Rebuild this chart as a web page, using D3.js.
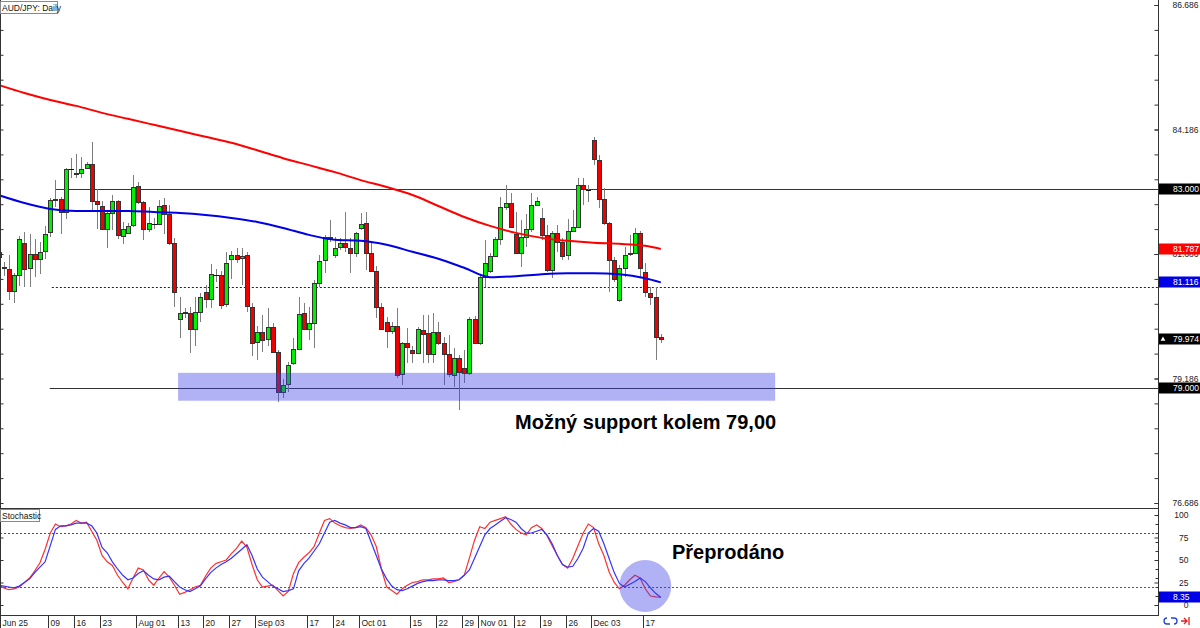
<!DOCTYPE html>
<html><head><meta charset="utf-8"><title>AUD/JPY Daily</title>
<script src="https://cdn.jsdelivr.net/npm/d3@7/dist/d3.min.js"></script>
<style>
html,body{margin:0;padding:0;background:#fff;}
svg{display:block;}
text{font-family:"Liberation Sans",Arial,sans-serif;}
</style></head><body>
<svg id="chart" width="1200" height="628"></svg>
<script>
// ---------- DATA ----------
const opens=[81.63,81.42,81.38,80.94,81.26,81.91,81.40,81.69,81.59,81.75,
82.13,82.77,82.79,82.53,83.39,83.29,83.31,83.41,83.49,82.75,
82.65,82.19,82.51,82.75,82.05,82.11,82.27,83.05,82.73,82.19,
82.29,82.29,82.67,82.49,81.91,80.38,80.52,80.50,80.18,80.52,
80.92,80.78,81.26,81.26,80.68,81.59,81.67,81.61,81.67,80.62,
79.92,80.12,79.98,80.22,79.72,78.92,79.08,79.50,79.78,80.50,
80.18,80.30,81.10,81.56,82.01,81.67,81.83,81.91,81.81,81.71,
82.21,82.31,81.71,81.34,80.62,80.32,80.14,80.24,79.28,79.90,
79.76,79.70,80.16,80.10,79.68,80.12,79.90,79.68,79.26,79.60,
79.40,79.30,80.38,79.90,81.22,81.34,81.65,81.99,82.63,82.71,
82.09,81.71,82.03,82.19,82.67,82.41,82.07,81.36,82.11,81.93,
81.67,82.15,82.23,83.07,82.97,83.97,83.57,82.79,82.31,81.56,
80.76,81.40,81.69,81.71,82.11,81.32,80.90,80.82,80.02];
const highs=[81.81,81.52,81.67,81.30,82.05,82.13,82.09,81.99,81.93,82.25,
82.81,83.17,82.83,83.41,83.61,83.69,83.63,83.53,83.93,82.99,
82.75,82.57,82.87,82.77,82.33,82.31,83.27,83.13,82.75,82.63,
82.41,82.77,82.81,82.67,82.01,80.82,80.60,80.62,80.82,80.90,
81.06,81.48,81.38,81.34,81.73,81.75,81.81,81.81,81.73,80.70,
80.24,80.46,80.60,80.30,79.76,79.18,79.52,80.00,80.82,80.70,
80.62,81.16,81.67,82.07,82.37,82.03,82.01,82.53,82.01,82.13,
82.51,82.53,81.91,81.44,80.70,80.42,80.32,80.60,79.92,80.20,
79.84,80.22,80.46,80.46,80.50,80.32,80.02,80.06,79.80,79.66,
79.76,80.42,80.44,81.26,81.97,81.71,82.03,82.83,83.07,82.91,
82.53,82.37,82.49,82.91,82.83,82.61,82.27,82.15,82.27,82.01,
82.39,82.57,83.21,83.21,83.07,84.04,83.67,83.01,82.33,81.63,
81.46,81.83,82.07,82.21,82.15,81.50,81.02,81.02,80.08];
const lows=[81.52,81.24,80.76,80.70,81.04,81.02,81.02,81.22,81.28,81.59,
82.03,82.63,82.09,82.39,83.21,83.21,83.21,83.41,82.57,82.19,
82.17,81.81,82.17,81.99,81.89,82.09,82.23,82.69,81.97,82.13,
82.19,82.29,82.09,81.87,80.62,80.00,80.40,79.70,79.84,80.32,
80.60,80.60,81.12,80.58,80.62,81.18,81.50,81.06,80.52,79.64,
79.56,79.72,79.84,79.70,78.71,78.79,78.92,79.46,79.76,80.16,
79.96,79.80,81.02,81.30,81.93,81.61,81.77,81.73,81.30,81.63,
82.17,81.36,81.32,80.40,80.16,79.80,80.08,79.20,79.06,79.50,
79.50,79.70,79.50,79.50,79.50,79.86,79.06,79.22,79.02,78.55,
79.10,79.26,79.88,79.86,81.02,81.30,81.63,81.87,82.57,82.21,
81.69,81.42,81.83,82.13,82.65,81.97,81.32,81.20,81.73,81.56,
81.56,82.13,82.21,82.67,82.73,83.47,82.61,82.27,80.92,81.12,
80.72,81.22,81.65,81.69,81.22,80.82,80.66,79.56,79.90];
const closes=[81.73,81.40,80.94,81.26,81.99,81.38,81.69,81.59,81.73,82.09,
82.77,82.79,82.53,83.39,83.39,83.31,83.39,83.49,82.75,82.69,
82.19,82.51,82.75,82.07,82.19,82.25,83.03,82.73,82.19,82.31,
82.29,82.65,82.49,81.91,80.92,80.50,80.50,80.18,80.52,80.82,
80.78,81.28,81.26,80.66,81.50,81.67,81.59,81.65,80.64,79.90,
80.12,79.96,80.22,79.72,78.92,79.06,79.46,79.78,80.48,80.18,
80.30,81.10,81.54,82.03,82.03,81.81,81.91,81.83,81.71,82.11,
82.29,81.71,81.34,80.62,80.18,80.14,80.24,79.26,79.90,79.82,
79.70,80.18,80.08,79.68,80.12,79.90,79.68,79.28,79.60,79.32,
79.30,80.38,79.90,81.22,81.50,81.65,81.99,82.63,82.71,82.23,
81.71,82.03,82.19,82.67,82.75,82.07,81.36,82.11,81.93,81.65,
82.15,82.23,83.07,82.99,82.97,83.59,82.79,82.31,81.56,81.18,
81.40,81.67,81.71,82.11,81.40,80.92,80.82,80.02,79.974];

// moving averages read at weekly bars
const maBars=[0,5,10,15,20,25,30,35,40,45,50,55,60,65,70,75,80,85,90,95,100,105,110,115,120,125,128];
const maRed=[85.08,84.92,84.78,84.66,84.52,84.40,84.28,84.16,84.04,83.92,83.77,83.61,83.47,83.33,83.17,83.03,82.87,82.65,82.43,82.25,82.11,82.01,81.95,81.91,81.89,81.85,81.787];
const maBlue=[82.87,82.71,82.59,82.55,82.55,82.55,82.53,82.51,82.47,82.41,82.33,82.21,82.07,81.97,81.95,81.87,81.73,81.59,81.41,81.22,81.24,81.28,81.30,81.30,81.28,81.20,81.116];

// stochastic
const stochK=[22,19,17,18,20,25,30,38,47,62,
80,90,87,88,90,94,91,92,82,72,
55,48,44,33,25,18,30,41,39,28,
22,30,37,31,22,12,14,17,20,22,
32,41,46,48,50,57,63,71,64,45,
28,20,21,22,16,10,15,35,47,53,
58,65,80,94,96,91,88,86,85,86,
89,86,78,65,40,20,16,12,18,22,
25,26,28,28,29,29,30,25,26,28,
33,52,72,87,85,92,94,96,98,90,
84,80,78,86,89,85,77,66,55,45,
41,52,66,80,90,86,68,55,37,25,
18,22,28,33,30,18,10,9,8.6];
const stochD=[22,21,20,19,21,25,29,36,42,48,
66,84,88,88,89,91,91,91,88,80,
64,58,48,40,33,28,30,35,38,33,
29,28,31,32,26,20,17,15,18,21,
29,36,41,45,48,52,57,62,67,55,
40,31,26,21,18,15,16,18,38,46,
52,60,68,80,92,94,91,89,86,86,
87,85,70,55,40,29,21,17,16,18,
21,24,26,27,27,28,28,27,27,28,
33,39,52,65,78,85,89,93,97,95,
92,85,80,80,82,84,78,68,55,45,
42,43,52,63,80,85,82,68,52,36,
24,20,23,26,30,26,19,13,8.35];

// horizontal levels
const levelPrices=[83.0,79.0,81.02];
const levelStartBar=[10.9,9.9,10.3];
const levelDashed=[false,false,true];

// support zone & oversold marker
const zoneBars=[34.7,150.1];
const zonePrices=[78.74,79.30];
const circleBar=125, circleValue=21;

// axes labels
const priceLabels=[86.686,84.186,81.686,79.186,76.686];
const stochLabels=[0,25,50,75,100];
const dateBars=[0,10,15,20,27,35,40,45,50,60,65,70,80,85,90,93,100,105,110,115,125];
const dateLabels=["Jun 25","09","16","23","Aug 01","13","20","27","Sep 03","17","24","Oct 01","15","22","29","Nov 01","12","19","26","Dec 03","17"];

// ---------- CHART ----------
const svg=d3.select('#chart');
const R=1158, MB=508, SB=615;
const x=d3.scaleLinear().domain([0,128]).range([-1.44,660.8]);
const yP=d3.scaleLinear().domain([76.686,86.686]).range([503,5]);
const yS=d3.scaleLinear().domain([0,100]).range([605,515]);
const crisp=v=>Math.round(v)+0.5;

const defs=svg.append('defs');
defs.append('clipPath').attr('id','cm').append('rect').attr('x',1).attr('y',0).attr('width',R-1).attr('height',MB);
defs.append('clipPath').attr('id','cs').append('rect').attr('x',1).attr('y',MB+1).attr('width',R-1).attr('height',SB-MB-1);

svg.append('rect').attr('width',1200).attr('height',628).attr('fill','#fff');

const gm=svg.append('g').attr('clip-path','url(#cm)');

// level lines
levelPrices.forEach((p,k)=>{
  gm.append('line').attr('x1',x(levelStartBar[k])).attr('x2',R)
    .attr('y1',crisp(yP(p))).attr('y2',crisp(yP(p)))
    .attr('stroke',levelDashed[k]?'#222':'#333').attr('stroke-width',1)
    .attr('stroke-dasharray',levelDashed[k]?'2,2':null);
});

const bars=d3.range(closes.length).map(i=>({i,o:opens[i],h:highs[i],l:lows[i],c:closes[i]}));
// wicks
gm.selectAll('line.wick').data(bars).join('line').attr('class','wick')
  .attr('x1',d=>Math.round(x(d.i))+0.5).attr('x2',d=>Math.round(x(d.i))+0.5)
  .attr('y1',d=>Math.round(yP(d.h))).attr('y2',d=>Math.round(yP(d.l)))
  .attr('stroke','#7d7d7d').attr('stroke-width',1);
// bodies
gm.selectAll('rect.body').data(bars.filter(d=>Math.abs(d.o-d.c)>=0.005)).join('rect').attr('class','body')
  .attr('x',d=>Math.round(x(d.i))-1.5).attr('width',4)
  .attr('y',d=>crisp(yP(Math.max(d.o,d.c))))
  .attr('height',d=>Math.max(1,Math.round(yP(Math.min(d.o,d.c))-yP(Math.max(d.o,d.c)))))
  .attr('fill',d=>d.c>d.o?'#00f000':'#f00000')
  .attr('stroke','#333').attr('stroke-width',1);
// doji
gm.selectAll('line.doji').data(bars.filter(d=>Math.abs(d.o-d.c)<0.005)).join('line').attr('class','doji')
  .attr('x1',d=>Math.round(x(d.i))-2).attr('x2',d=>Math.round(x(d.i))+3)
  .attr('y1',d=>crisp(yP(d.c))).attr('y2',d=>crisp(yP(d.c)))
  .attr('stroke','#111').attr('stroke-width',1);

// moving averages
const maLine=d3.line().x(d=>x(d[0])).y(d=>yP(d[1])).curve(d3.curveMonotoneX);
gm.append('path').datum(maBars.map((b,k)=>[b,maRed[k]])).attr('d',maLine)
  .attr('fill','none').attr('stroke','#ff0000').attr('stroke-width',2);
gm.append('path').datum(maBars.map((b,k)=>[b,maBlue[k]])).attr('d',maLine)
  .attr('fill','none').attr('stroke','#0000e6').attr('stroke-width',2);

// support zone
gm.append('rect').attr('x',x(zoneBars[0])).attr('width',x(zoneBars[1])-x(zoneBars[0]))
  .attr('y',yP(zonePrices[1])).attr('height',yP(zonePrices[0])-yP(zonePrices[1]))
  .attr('fill','rgba(60,60,230,0.4)');

// annotation
svg.append('text').attr('x',515).attr('y',429).attr('font-size',20).attr('font-weight','bold')
  .attr('fill','#000').text('Možný support kolem 79,00');

// ---------- Stochastic panel ----------
const gs=svg.append('g').attr('clip-path','url(#cs)');
gs.append('line').attr('x1',0).attr('x2',R).attr('y1',crisp(yS(80))).attr('y2',crisp(yS(80)))
  .attr('stroke','#3c3cff').attr('stroke-width',1.2).attr('stroke-dasharray','2,2');
gs.append('line').attr('x1',0).attr('x2',R).attr('y1',crisp(yS(20))).attr('y2',crisp(yS(20)))
  .attr('stroke','#ff1010').attr('stroke-width',1.2).attr('stroke-dasharray','2,2');
const stLine=d3.line().x((d,i)=>x(i)).y(d=>yS(d));
gs.append('path').datum(stochK).attr('d',stLine).attr('fill','none').attr('stroke','#ff3030').attr('stroke-width',1.2);
gs.append('path').datum(stochD).attr('d',stLine).attr('fill','none').attr('stroke','#3434ff').attr('stroke-width',1.2);
gs.append('circle').attr('cx',x(circleBar)).attr('cy',yS(circleValue)).attr('r',26)
  .attr('fill','rgba(60,60,230,0.4)');
svg.append('text').attr('x',672).attr('y',559).attr('font-size',20).attr('font-weight','bold')
  .attr('fill','#000').text('Přeprodáno');

// ---------- frame ----------
const frame=svg.append('g').attr('stroke','#333').attr('stroke-width',1);
frame.append('line').attr('x1',0.5).attr('x2',0.5).attr('y1',0).attr('y2',SB);
frame.append('line').attr('x1',R+0.5).attr('x2',R+0.5).attr('y1',0).attr('y2',SB+1);
frame.append('line').attr('x1',0).attr('x2',R).attr('y1',MB+0.5).attr('y2',MB+0.5);
frame.append('line').attr('x1',0).attr('x2',R+1).attr('y1',SB+0.5).attr('y2',SB+0.5);

// left edge ticks (price)
const minorPrices=d3.range(0,21).map(k=>76.686+k*0.5);
svg.append('g').attr('transform','translate(0.5,0)')
  .call(d3.axisRight(yP).tickValues(minorPrices).tickFormat('').tickSize(3).tickSizeOuter(0))
  .call(g=>g.select('.domain').remove())
  .selectAll('line').attr('stroke','#333');
svg.append('g').attr('transform','translate(0.5,0)')
  .call(d3.axisRight(yS).tickValues(stochLabels).tickFormat('').tickSize(3).tickSizeOuter(0))
  .call(g=>g.select('.domain').remove())
  .selectAll('line').attr('stroke','#333');

// right price axis
svg.append('g').attr('transform',`translate(${R+0.5},0)`)
  .call(d3.axisRight(yP).tickValues(minorPrices).tickFormat('').tickSizeInner(-4).tickSizeOuter(0))
  .call(g=>g.select('.domain').remove())
  .selectAll('line').attr('stroke','#333');
const pa=svg.append('g').attr('transform',`translate(${R+0.5},0)`)
  .call(d3.axisRight(yP).tickValues(priceLabels).tickFormat(d3.format('.3f')).tickSizeInner(-4).tickSizeOuter(0).tickPadding(14));
pa.select('.domain').remove();
pa.selectAll('text').attr('font-size',8.5).attr('fill','#222').attr('font-family','"Liberation Sans",Arial,sans-serif');
pa.selectAll('line').attr('stroke','#333');

// right stochastic axis
svg.append('g').attr('transform',`translate(${R+0.5},0)`)
  .call(d3.axisRight(yS).tickValues(d3.range(0,101,10)).tickFormat('').tickSizeInner(-3).tickSizeOuter(0))
  .call(g=>g.select('.domain').remove())
  .selectAll('line').attr('stroke','#333');
const sa=svg.append('g').attr('transform',`translate(${R+0.5},0)`)
  .call(d3.axisRight(yS).tickValues(stochLabels).tickFormat(d3.format('d')).tickSizeInner(-4).tickSizeOuter(0).tickPadding(30));
sa.select('.domain').remove();
sa.selectAll('text').attr('font-size',8.5).attr('fill','#222').attr('text-anchor','end').attr('font-family','"Liberation Sans",Arial,sans-serif');
sa.selectAll('line').attr('stroke','#333');

// value boxes on right axis
function valueBox(yPix,txt,bg,fg,arrow){
  const g=svg.append('g');
  g.append('rect').attr('x',R+1).attr('y',Math.round(yPix)-5.5).attr('width',1200-R-1).attr('height',11).attr('fill',bg);
  g.append('text').attr('x',R+15).attr('y',yPix).attr('dy','0.35em').attr('font-size',8.5).attr('fill',fg).text(txt);
  if(arrow){
    g.append('path').attr('d',d3.symbol(d3.symbolTriangle,10)()).attr('transform',`translate(${R+5},${yPix})`).attr('fill',fg);
  }
}
valueBox(yP(levelPrices[0]),d3.format('.3f')(levelPrices[0]),'#000','#fff');
valueBox(yP(maRed[maRed.length-1]),d3.format('.3f')(maRed[maRed.length-1]),'#ff0000','#fff');
valueBox(yP(maBlue[maBlue.length-1]),d3.format('.3f')(maBlue[maBlue.length-1]),'#0000e6','#fff');
valueBox(yP(closes[closes.length-1]),d3.format('.3f')(closes[closes.length-1]),'#000','#fff',true);
valueBox(yP(levelPrices[1]),d3.format('.3f')(levelPrices[1]),'#000','#fff');
valueBox(yS(stochD[stochD.length-1]),d3.format('.2f')(stochD[stochD.length-1]),'#0000e6','#fff');

// date axis
const da=svg.append('g').attr('transform',`translate(0,${SB+0.5})`)
  .call(d3.axisBottom(x).tickValues(dateBars.map(b=>b-0.4)).tickFormat((d,k)=>dateLabels[k]).tickSizeInner(13).tickSizeOuter(0));
da.select('.domain').remove();
da.selectAll('.tick line').attr('stroke','#333');
da.selectAll('.tick').attr('transform',function(d){const px=Math.max(0,Math.round(x(d)));return `translate(${px+0.5},0)`;});
da.selectAll('text').attr('font-size',8.5).attr('fill','#222').attr('text-anchor','start')
  .attr('x',2).attr('y',10).attr('dy',0).attr('font-family','"Liberation Sans",Arial,sans-serif');

// title boxes
function tagBox(x0,y0,w,h,txt){
  svg.append('rect').attr('x',x0+0.5).attr('y',y0+0.5).attr('width',w).attr('height',h)
    .attr('fill','#fff').attr('stroke','#888');
  svg.append('text').attr('x',x0+2).attr('y',y0+h-2.5).attr('font-size',8.5).attr('fill','#111').text(txt);
}
tagBox(0,1,57,12,'AUD/JPY: Daily');
tagBox(0,MB+1,39,12,'Stochastic');

// bottom-right icons
const ic=svg.append('g').attr('fill','none').attr('stroke-width',1.3);
ic.append('path').attr('d','M1167,618 a3,3 0 1,0 0,6 h3 M1171,618 h3 a3,3 0 1,1 0,6').attr('stroke','#2244dd');
ic.append('path').attr('d','M1181,621 h6 M1184,618 l3,3 l-3,3 M1189,617 v8').attr('stroke','#e02020');
</script>
</body></html>
